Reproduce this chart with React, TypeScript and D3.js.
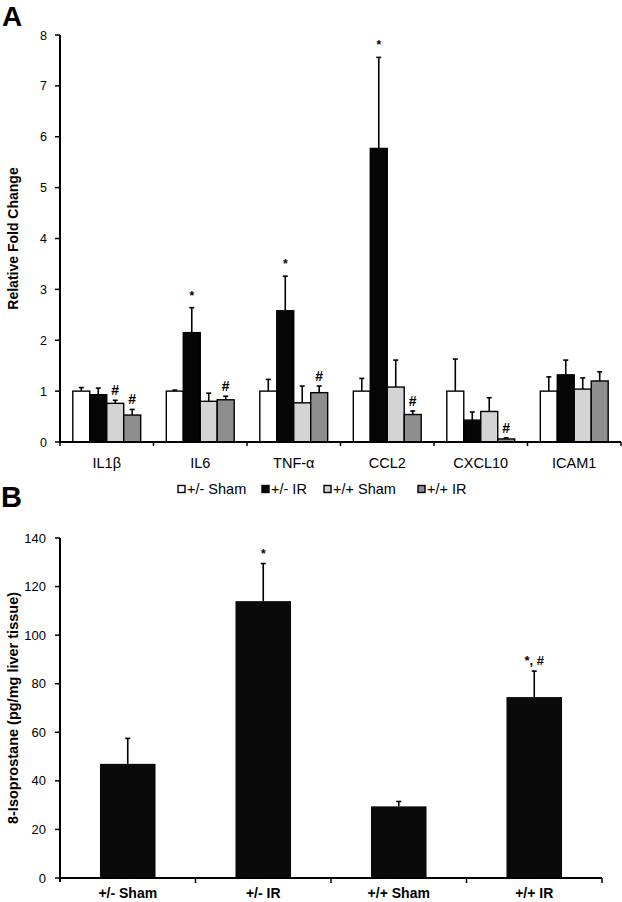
import React from "react";
import * as d3 from "d3";

const W = 622;
const H = 902;
const FONT = "'Liberation Sans', Arial, Helvetica, sans-serif";

// Panel A data
const genes = ["IL1β", "IL6", "TNF-α", "CCL2", "CXCL10", "ICAM1"];
const groups = ["+/- Sham", "+/- IR", "+/+ Sham", "+/+ IR"];
const groupColors = ["#ffffff", "#050505", "#d4d4d4", "#8e8e8e"];

const hetSham = [1.0, 1.0, 1.0, 1.0, 1.0, 1.0];
const hetShamErr = [0.07, 0.02, 0.23, 0.25, 0.63, 0.28];
const hetIR = [0.93, 2.15, 2.58, 5.77, 0.43, 1.32];
const hetIRErr = [0.13, 0.49, 0.68, 1.79, 0.16, 0.29];
const wtSham = [0.76, 0.8, 0.77, 1.08, 0.6, 1.04];
const wtShamErr = [0.06, 0.16, 0.33, 0.53, 0.27, 0.22];
const wtIR = [0.53, 0.83, 0.97, 0.54, 0.06, 1.2];
const wtIRErr = [0.11, 0.07, 0.13, 0.07, 0.02, 0.18];

const hetIRMarks = ["", "*", "*", "*", "", ""];
const wtShamMarks = ["#", "", "", "", "", ""];
const wtIRMarks = ["#", "#", "#", "#", "#", ""];

// Panel B data
const bGroups = ["+/- Sham", "+/- IR", "+/+ Sham", "+/+ IR"];
const bValues = [47, 114, 29.5, 74.5];
const bErr = [10.5, 15.5, 2, 10.7];
const bMarks = ["", "*", "", "*, #"];

const seriesMeans = [hetSham, hetIR, wtSham, wtIR];
const seriesErrs = [hetShamErr, hetIRErr, wtShamErr, wtIRErr];
const seriesMarks = [genes.map(() => ""), hetIRMarks, wtShamMarks, wtIRMarks];

const ErrBar = ({ x, y0, y1 }: { x: number; y0: number; y1: number }) => (
  <g stroke="#000" strokeWidth={1.6}>
    <line x1={x} x2={x} y1={y0} y2={y1} />
    <line x1={x - 2.5} x2={x + 2.5} y1={y1} y2={y1} />
  </g>
);

const PanelA = () => {
  const x0 = d3.scaleBand<string>().domain(genes).range([60, 621]).padding(0);
  const bw = x0.bandwidth();
  const x1 = d3
    .scaleBand<string>()
    .domain(groups)
    .range([bw * 0.137, bw * 0.863])
    .padding(0);
  const y = d3.scaleLinear().domain([0, 8]).range([442, 35]);
  const legendX = [178, 262, 324, 418];

  return (
    <g>
      <text x={2} y={26} fontSize={28} fontWeight="bold" fontFamily={FONT}>
        A
      </text>
      {seriesMeans.map((vals, si) =>
        genes.map((g, gi) => {
          const bx = (x0(g) ?? 0) + (x1(groups[si]) ?? 0);
          const cx = bx + x1.bandwidth() / 2;
          const top = y(vals[gi] + seriesErrs[si][gi]);
          const mark = seriesMarks[si][gi];
          return (
            <g key={`${si}-${gi}`}>
              <ErrBar x={cx} y0={y(vals[gi])} y1={top} />
              <rect
                x={bx}
                y={y(vals[gi])}
                width={x1.bandwidth()}
                height={y(0) - y(vals[gi])}
                fill={groupColors[si]}
                stroke="#000"
                strokeWidth={1.4}
              />
              {mark && (
                <text
                  x={cx}
                  y={mark === "*" ? top - 8 : top - 5}
                  textAnchor="middle"
                  fontSize={mark === "*" ? 12 : 14}
                  fontWeight="bold"
                  fontFamily={FONT}
                >
                  {mark}
                </text>
              )}
            </g>
          );
        })
      )}
      {/* axes */}
      <line x1={60} x2={60} y1={y(8)} y2={y(0) + 1} stroke="#000" strokeWidth={2} />
      <line x1={59} x2={621} y1={y(0)} y2={y(0)} stroke="#000" strokeWidth={2} />
      {y.ticks(8).map((t) => (
        <g key={t}>
          <line x1={55} x2={60} y1={y(t)} y2={y(t)} stroke="#000" strokeWidth={1.5} />
          <text
            x={47}
            y={y(t) + 4.5}
            textAnchor="end"
            fontSize={12.5}
            fontFamily={FONT}
          >
            {t}
          </text>
        </g>
      ))}
      {[...genes.map((g) => x0(g) ?? 0), 621].map((v, i) => (
        <line key={i} x1={v} x2={v} y1={y(0)} y2={y(0) + 4} stroke="#000" strokeWidth={1.5} />
      ))}
      {genes.map((g) => (
        <text
          key={g}
          x={(x0(g) ?? 0) + bw / 2}
          y={468}
          textAnchor="middle"
          fontSize={14.5}
          fontFamily={FONT}
        >
          {g}
        </text>
      ))}
      <text
        transform={`translate(18, ${(y(0) + y(8)) / 2}) rotate(-90)`}
        textAnchor="middle"
        fontSize={14}
        fontWeight="bold"
        fontFamily={FONT}
      >
        Relative Fold Change
      </text>
      {/* legend */}
      {groups.map((g, i) => (
        <g key={g}>
          <rect
            x={legendX[i]}
            y={485.5}
            width={7}
            height={7}
            fill={groupColors[i]}
            stroke="#000"
            strokeWidth={1.4}
          />
          <text x={legendX[i] + 9} y={494} fontSize={14.5} fontFamily={FONT}>
            {g}
          </text>
        </g>
      ))}
    </g>
  );
};

const PanelB = () => {
  const x = d3.scaleBand<string>().domain(bGroups).range([60, 602]).padding(0);
  const bw = x.bandwidth();
  const barW = bw * 0.41;
  const y = d3.scaleLinear().domain([0, 140]).range([878, 538]);

  return (
    <g>
      <text x={1} y={507} fontSize={29} fontWeight="bold" fontFamily={FONT}>
        B
      </text>
      {bGroups.map((g, i) => {
        const cx = (x(g) ?? 0) + bw / 2;
        const top = y(bValues[i] + bErr[i]);
        return (
          <g key={g}>
            <ErrBar x={cx} y0={y(bValues[i])} y1={top} />
            <rect
              x={cx - barW / 2}
              y={y(bValues[i])}
              width={barW}
              height={y(0) - y(bValues[i])}
              fill="#0a0a0a"
            />
            {bMarks[i] && (
              <text
                x={cx}
                y={top - 6}
                textAnchor="middle"
                fontSize={bMarks[i] === "*" ? 12 : 13}
                fontWeight="bold"
                fontFamily={FONT}
              >
                {bMarks[i]}
              </text>
            )}
          </g>
        );
      })}
      <line x1={60} x2={60} y1={y(140)} y2={y(0) + 4} stroke="#000" strokeWidth={2} />
      <line x1={59} x2={602} y1={y(0)} y2={y(0)} stroke="#000" strokeWidth={2} />
      {y.ticks(7).map((t) => (
        <g key={t}>
          <line x1={55} x2={60} y1={y(t)} y2={y(t)} stroke="#000" strokeWidth={1.5} />
          <text
            x={46}
            y={y(t) + 4.5}
            textAnchor="end"
            fontSize={13}
            fontFamily={FONT}
          >
            {t}
          </text>
        </g>
      ))}
      {[...bGroups.slice(1).map((g) => x(g) ?? 0), 602].map((v, i) => (
        <line key={i} x1={v} x2={v} y1={y(0)} y2={y(0) + 5} stroke="#000" strokeWidth={1.5} />
      ))}
      {bGroups.map((g) => (
        <text
          key={g}
          x={(x(g) ?? 0) + bw / 2}
          y={897.5}
          textAnchor="middle"
          fontSize={14}
          fontWeight="bold"
          fontFamily={FONT}
        >
          {g}
        </text>
      ))}
      <text
        transform={`translate(18, ${(y(0) + y(140)) / 2}) rotate(-90)`}
        textAnchor="middle"
        fontSize={14.5}
        fontWeight="bold"
        fontFamily={FONT}
      >
        8-Isoprostane (pg/mg liver tissue)
      </text>
    </g>
  );
};

export default function App() {
  return (
    <svg
      width={W}
      height={H}
      style={{ position: "absolute", left: 0, top: 0, background: "#fff" }}
    >
      <rect width={W} height={H} fill="#fff" />
      <PanelA />
      <PanelB />
    </svg>
  );
}
